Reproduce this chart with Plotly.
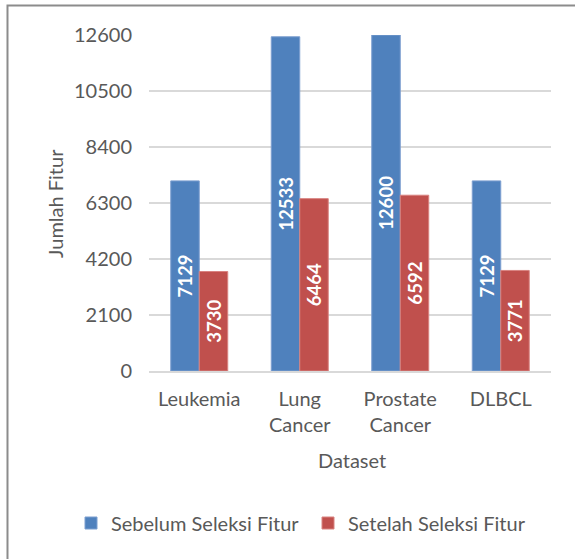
import plotly.graph_objects as go

# Data
datasets = ["Leukemia", "Lung<br>Cancer", "Prostate<br>Cancer", "DLBCL"]
sebelum = [7129, 12533, 12600, 7129]
setelah = [3730, 6464, 6592, 3771]
y_ticks = [0, 2100, 4200, 6300, 8400, 10500, 12600]

FONT = "Lato"
GREY = "#595959"

fig = go.Figure()
fig.add_trace(go.Bar(
    name="Sebelum Seleksi Fitur", x=datasets, y=sebelum, legend="legend",
    marker=dict(color="#4f81bd", line=dict(color="#7d9fd0", width=1)),
    text=[str(v) for v in sebelum], textposition="inside",
    insidetextanchor="middle", textangle=-90,
    textfont=dict(family=FONT, size=19, color="white", weight="bold"),
))
fig.add_trace(go.Bar(
    name="Setelah Seleksi Fitur", x=datasets, y=setelah, legend="legend2",
    marker=dict(color="#c0504d", line=dict(color="#d98380", width=1)),
    text=[str(v) for v in setelah], textposition="inside",
    insidetextanchor="middle", textangle=-90,
    textfont=dict(family=FONT, size=19, color="white", weight="bold"),
))

legend_style = dict(orientation="h", xref="container", yref="container",
                    xanchor="left", y=0.0644, yanchor="middle",
                    font=dict(family=FONT, size=20, color=GREY),
                    bgcolor="rgba(0,0,0,0)")

fig.update_layout(
    width=575, height=559,
    margin=dict(l=149, r=24, t=35, b=188, autoexpand=False),
    paper_bgcolor="white", plot_bgcolor="white",
    barmode="group", bargap=0.433, bargroupgap=0,
    font=dict(family=FONT, size=20, color=GREY),
    showlegend=True,
    legend=dict(x=71 / 575, **legend_style),
    legend2=dict(x=308 / 575, **legend_style),
    uniformtext=dict(mode=False),
)
fig.update_yaxes(
    range=[0, 12600], tickvals=y_ticks, ticktext=[str(v) for v in y_ticks],
    showgrid=True, gridcolor="#d9d9d9", gridwidth=1.5,
    zeroline=False, showline=False, ticks="", ticklabelstandoff=16,
    tickfont=dict(family=FONT, size=20, color=GREY),
)
fig.update_xaxes(
    showgrid=False, showline=True, linecolor="#d9d9d9", linewidth=1.5,
    ticks="", ticklabelstandoff=9,
    tickfont=dict(family=FONT, size=20, color=GREY),
)

# Axis titles
fig.add_annotation(text="Dataset", xref="paper", yref="paper", x=0.505, y=-0.265,
                   xanchor="center", yanchor="middle",
                   showarrow=False, font=dict(family=FONT, size=20, color=GREY))
fig.add_annotation(text="Jumlah Fitur", xref="paper", yref="paper", x=-0.234, y=0.5,
                   xanchor="center", yanchor="middle",
                   textangle=-90, showarrow=False, font=dict(family=FONT, size=20, color=GREY))

# Chart frame
fig.add_shape(type="rect", xref="paper", yref="paper",
              x0=-0.352, y0=-0.6, x1=1.1, y1=1.0878,
              line=dict(color="#8c8c8c", width=2), fillcolor="rgba(0,0,0,0)", layer="below")

fig.write_html("out.html")
